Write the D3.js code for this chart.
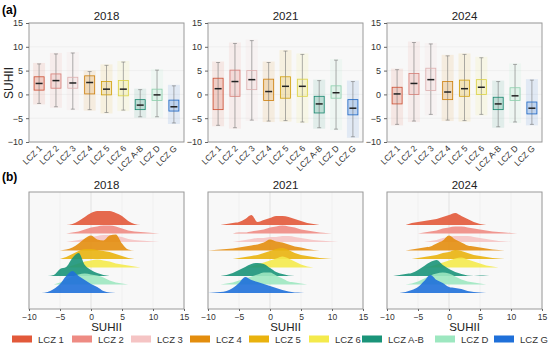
<!DOCTYPE html>
<html>
<head>
<meta charset="utf-8">
<script src="https://d3js.org/d3.v7.min.js"></script>
<style>
  body { margin: 0; background: #fff; }
  text { font-family: "Liberation Sans", Arial, sans-serif; }
</style>
</head>
<body>
<script>
// ---- data ----
var years = ["2018", "2021", "2024"];
var zones = ["LCZ 1", "LCZ 2", "LCZ 3", "LCZ 4", "LCZ 5", "LCZ 6", "LCZ A-B", "LCZ D", "LCZ G"];
var zoneColors = ["#E2593A", "#EE8B83", "#F5C4C4", "#E38D0E", "#E9B20E", "#F4EA4C", "#1A9479", "#9DE7C0", "#1F70D9"];
var yTicks = [-10, -5, 0, 5, 10, 15];
var xTicks = [-10, -5, 0, 5, 10, 15];

// box stats per zone: [whisker low, q1, median, q3, whisker high]
var box2018 = [
  [-1.9, 0.9, 2.3, 3.7, 6.4], [-2.6, 1.3, 2.9, 4.3, 8.5], [-3.1, 1.3, 2.4, 3.6, 8.7],
  [-3.2, 0.1, 2.5, 3.9, 4.8], [-3.8, -0.1, 1.1, 2.7, 6.1], [-3.3, -0.3, 1.1, 2.9, 6.8],
  [-4.7, -3.2, -2.25, -1.1, 1.0], [-4.7, -1.3, -0.1, 1.1, 5.1], [-6.0, -3.5, -2.6, -1.2, 1.8]
];
var box2021 = [
  [-6.5, -3.2, 1.2, 3.4, 6.7], [-7.0, -0.4, 2.7, 5.1, 10.7], [-5.4, 1.0, 3.1, 5.0, 11.3],
  [-5.6, -1.3, 0.6, 3.2, 6.7], [-5.5, -0.8, 1.7, 3.7, 9.1], [-5.8, -0.4, 1.7, 3.2, 8.4],
  [-7.0, -3.9, -2.0, -0.4, 2.9], [-7.3, -0.8, 0.35, 1.8, 7.2], [-8.9, -4.3, -2.9, -1.1, 2.7]
];
var box2024 = [
  [-6.3, -2.0, 0.1, 1.5, 5.2], [-5.6, 0.0, 2.3, 4.4, 10.9], [-4.2, 0.8, 3.1, 5.5, 10.6],
  [-5.4, -1.1, 0.5, 2.7, 8.1], [-5.5, -0.4, 1.2, 3.0, 8.4], [-4.2, 0.0, 1.5, 3.1, 7.7],
  [-6.8, -3.2, -2.0, -0.6, 2.7], [-5.8, -1.3, -0.3, 1.4, 6.3], [-6.3, -4.1, -2.9, -1.6, 3.0]
];

var densityX = [-10, -9, -8, -7, -6, -5, -4, -3, -2, -1, 0, 1, 2, 3, 4, 5, 6, 7, 8, 9, 10, 11, 12];
var dens2018 = [
  [0,0,0,0,0,0,0,1,4,8,12,14,14,14,12,9,4,1,0,0,0,0,0],
  [0,0,0,0,0,0,0,1,2,4,6,7,8,8,7,5,3,2,1.5,1,0.5,0,0],
  [0,0,0,0,0,0,0,1,2,3,5,6,7,7,6,5,3,2,1.5,1,0.5,0,0],
  [0,0,0,0,0,0,1,3,7,12,15,11,10,15,16,7,1,0,0,0,0,0,0],
  [0,0,0,0,0,0,2,5,8,10,10,9,8,7,5,3,1,0,0,0,0,0,0],
  [0,0,0,0,0,0,0,2,4,6,7,8,7,6,4,3,2,1,0,0,0,0,0],
  [0,0,0,0,1,7,9,18,23,11,6,3,1,0,0,0,0,0,0,0,0,0,0],
  [0,0,0,0,0,2,5,8,10,11,10,9,7,4,2,1,0,0,0,0,0,0,0],
  [0,0,0,1,4,9,17,22,17,13,9,6,2,0.5,0,0,0,0,0,0,0,0,0]
];
var dens2021 = [
  [0,0,0,1,2,3,6,10,3,5,7,9,9,8,6,4,2,1,0,0,0,0,0],
  [0,0,0,0,0,1,1,2,3,4,6,7,8,7,6,4,3,2,1,0.5,0,0,0],
  [0,0,0,0,0,1,2,3,4,4,5,5,6,6,5,4,3,2,1.5,1,0.5,0,0],
  [0,0.5,1,1.5,2,3,4,5,6,8,11,9,8,6,4,3,1.5,0.5,0,0,0,0,0],
  [0,0,0,0,0,1,2,3,4,6,8,10,11,9,6,4,3,2,1,0.5,0,0,0],
  [0,0,0,0,0,0,0,1,3,5,7,9,11,9,6,3,1,0,0,0,0,0,0],
  [0,0,0,1,3,6,9,12,13,12,8,4,2,0.5,0,0,0,0,0,0,0,0,0],
  [0,0,0,1,2,4,6,8,10,12,12,9,6,3,2,1,0,0,0,0,0,0,0],
  [0,0.5,1,2,5,10,16,13,11,9,7,5,3,1.5,0.5,0.3,0,0,0,0,0,0,0]
];
var dens2024 = [
  [0,0,0,0,2,3,4,5,6,8,10,12,9,6,3,1,0,0,0,0,0,0,0],
  [0,0,0,0,0,0,1,2,3,5,6,7,7,6,5,4,3,2,1.5,1,0.5,0,0],
  [0,0,0,0,0,0,0,1,2,4,5,6,6,6,5,4,3,2,1,0.5,0,0,0],
  [0,0,0,0,1,2,3,4,7,10,15,11,8,5,4,3,2,1,0.5,0,0,0,0],
  [0,0,0,0,0,1,2,3,4,6,7,9,8,6,4,3,2,1,0.5,0,0,0,0],
  [0,0,0,0,0,0,0,1,3,5,7,9,10,8,6,4,2,1,0,0,0,0,0],
  [0,0,1,2,3,6,10,14,16,11,7,4,2,0.5,0,0.5,0.3,0,0,0,0,0,0],
  [0,0,0,0,1,3,6,9,11,12,11,8,5,3,2,1,0,0,0,0,0,0,0],
  [0,0,0,1,3,6,12,18,13,10,6,5,4,2,1,0.5,0,0,0,0,0,0,0]
];

var boxes = [box2018, box2021, box2024];
var dens = [dens2018, dens2021, dens2024];

// ---- layout ----
var W = 550, H = 347;
var svg = d3.select("body").append("svg").attr("width", W).attr("height", H);
var panelX = [[29, 184], [208, 363], [387, 542]];
var topY = [23, 142], botY = [192, 309];

svg.append("text").attr("x", 2).attr("y", 14).style("font-size", "12px").style("font-weight", "bold").text("(a)");
svg.append("text").attr("x", 2).attr("y", 181).style("font-size", "12px").style("font-weight", "bold").text("(b)");

years.forEach(function(yr, p) {
  var x0 = panelX[p][0], x1 = panelX[p][1];

  // ---------- boxplot panel ----------
  var g = svg.append("g");
  var y = d3.scaleLinear().domain([-10, 15]).range([topY[1], topY[0]]);
  var xc = d3.scalePoint().domain(zones).range([x0, x1]).padding(0.6);

  g.append("rect").attr("x", x0).attr("y", topY[0]).attr("width", x1 - x0).attr("height", topY[1] - topY[0])
    .attr("fill", "#F8F8F8");
  g.selectAll(".hg").data(yTicks).enter().append("line")
    .attr("x1", x0).attr("x2", x1).attr("y1", d => y(d)).attr("y2", d => y(d))
    .attr("stroke", "#E8E8E8").attr("stroke-width", 0.6);

  var b = g.selectAll(".bx").data(boxes[p]).enter().append("g");
  // point cloud
  b.append("rect")
    .attr("x", (d, i) => xc(zones[i]) - 6).attr("width", 12)
    .attr("y", d => y(d[4]) - 1).attr("height", d => y(d[0]) - y(d[4]) + 2)
    .attr("fill", (d, i) => zoneColors[i]).attr("opacity", 0.1);
  b.append("rect")
    .attr("x", (d, i) => xc(zones[i]) - 5).attr("width", 10)
    .attr("y", d => y(d[3])).attr("height", d => y(d[1]) - y(d[3]))
    .attr("fill", (d, i) => zoneColors[i]).attr("opacity", 0.18);
  // whiskers
  b.append("line")
    .attr("x1", (d, i) => xc(zones[i])).attr("x2", (d, i) => xc(zones[i]))
    .attr("y1", d => y(d[0])).attr("y2", d => y(d[4]))
    .attr("stroke", "#777").attr("stroke-width", 0.6);
  [0, 4].forEach(function(k) {
    b.append("line")
      .attr("x1", (d, i) => xc(zones[i]) - 2).attr("x2", (d, i) => xc(zones[i]) + 2)
      .attr("y1", d => y(d[k])).attr("y2", d => y(d[k]))
      .attr("stroke", "#777").attr("stroke-width", 0.6);
  });
  // box
  b.append("rect")
    .attr("x", (d, i) => xc(zones[i]) - 5).attr("width", 10)
    .attr("y", d => y(d[3])).attr("height", d => y(d[1]) - y(d[3]))
    .attr("fill", "none")
    .attr("stroke", (d, i) => d3.color(zoneColors[i]).darker(0.3)).attr("stroke-width", 0.8);
  // median
  b.append("line")
    .attr("x1", (d, i) => xc(zones[i]) - 3.5).attr("x2", (d, i) => xc(zones[i]) + 3.5)
    .attr("y1", d => y(d[2])).attr("y2", d => y(d[2]))
    .attr("stroke", "#222").attr("stroke-width", 1.5);

  g.append("rect").attr("x", x0).attr("y", topY[0]).attr("width", x1 - x0).attr("height", topY[1] - topY[0])
    .attr("fill", "none").attr("stroke", "#9a9a9a").attr("stroke-width", 1);

  var ya = g.append("g").attr("transform", "translate(" + x0 + ",0)")
    .call(d3.axisLeft(y).tickValues(yTicks).tickSize(3).tickFormat(d3.format("d")));
  ya.select(".domain").remove();
  ya.selectAll("line").attr("stroke", "#666");
  ya.selectAll("text").style("font-size", "9px").attr("fill", "#333");

  var xa = g.append("g").attr("transform", "translate(0," + topY[1] + ")")
    .call(d3.axisBottom(xc).tickSize(0));
  xa.select(".domain").remove();
  xa.selectAll("text").style("font-size", "8.5px").attr("fill", "#333")
    .attr("text-anchor", "end").attr("dy", 0).attr("y", 0)
    .attr("transform", "translate(3,7) rotate(-45)");

  svg.append("text").attr("x", (x0 + x1) / 2).attr("y", 20).attr("text-anchor", "middle")
    .style("font-size", "11.5px").attr("fill", "#222").text(yr);

  // ---------- ridgeline panel ----------
  var r = svg.append("g");
  var xs = d3.scaleLinear().domain([-10, 15]).range([x0, x1]);
  var base = d3.scalePoint().domain(zones).range([225, 293]);
  var h = d3.scaleLinear().domain([0, 25]).range([0, 25]);

  r.append("rect").attr("x", x0).attr("y", botY[0]).attr("width", x1 - x0).attr("height", botY[1] - botY[0])
    .attr("fill", "#F8F8F8");
  r.selectAll(".vg").data(xTicks).enter().append("line")
    .attr("x1", d => xs(d)).attr("x2", d => xs(d)).attr("y1", botY[0]).attr("y2", botY[1])
    .attr("stroke", d => d === 0 ? "#DADADA" : "#EEEEEE").attr("stroke-width", 0.7);

  r.selectAll(".ridge").data(dens[p]).enter().append("path")
    .attr("d", function(d, i) {
      var b0 = base(zones[i]);
      // skip long zero stretches so no baseline hairline is drawn
      var area = d3.area()
        .defined((v, k) => v > 0 || (d[k - 1] || 0) > 0 || (d[k + 1] || 0) > 0)
        .x((v, k) => xs(densityX[k]))
        .y0(b0).y1(v => b0 - h(v))
        .curve(d3.curveMonotoneX);
      return area(d);
    })
    .attr("fill", (d, i) => zoneColors[i])
    .attr("fill-opacity", 0.9);

  r.append("rect").attr("x", x0).attr("y", botY[0]).attr("width", x1 - x0).attr("height", botY[1] - botY[0])
    .attr("fill", "none").attr("stroke", "#9a9a9a").attr("stroke-width", 1);

  var xb = r.append("g").attr("transform", "translate(0," + botY[1] + ")")
    .call(d3.axisBottom(xs).tickValues(xTicks).tickSize(2).tickFormat(d3.format("d")));
  xb.select(".domain").remove();
  xb.selectAll("line").attr("stroke", "#666");
  xb.selectAll("text").style("font-size", "8.5px").attr("fill", "#333");

  svg.append("text").attr("x", (x0 + x1) / 2).attr("y", 189).attr("text-anchor", "middle")
    .style("font-size", "11.5px").attr("fill", "#222").text(yr);
  svg.append("text").attr("x", (x0 + x1) / 2).attr("y", 331).attr("text-anchor", "middle")
    .style("font-size", "11.5px").attr("fill", "#222").text("SUHII");
});

svg.append("text").attr("transform", "translate(13,83) rotate(-90)").attr("text-anchor", "middle")
  .style("font-size", "12px").attr("fill", "#222").text("SUHII");

// ---------- legend ----------
var legendX = [12, 72, 131, 190, 249, 309, 362, 435, 494];
var lg = svg.append("g").selectAll("g").data(zones).enter().append("g")
  .attr("transform", (d, i) => "translate(" + legendX[i] + ",339)");
lg.append("rect").attr("x", 0).attr("y", -3.5).attr("width", 20).attr("height", 7)
  .attr("fill", (d, i) => zoneColors[i]);
lg.append("text").attr("x", 26).attr("y", 3.5).style("font-size", "9.5px").attr("fill", "#333").text(d => d);
</script>
</body>
</html>
